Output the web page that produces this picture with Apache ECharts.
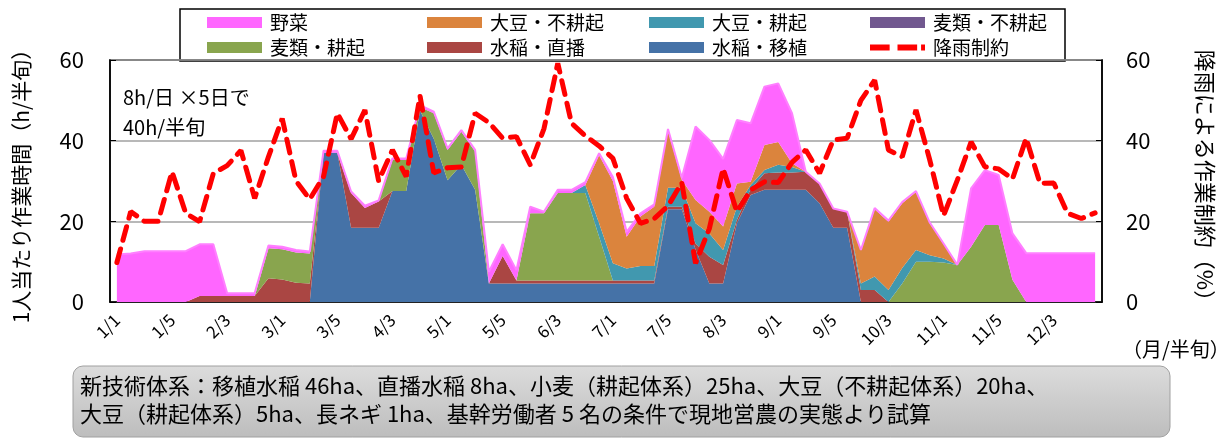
<!DOCTYPE html>
<html>
<head>
<meta charset="utf-8">
<script src="https://cdn.jsdelivr.net/npm/echarts@6/dist/echarts.min.js"></script>
<style>
  html, body { margin: 0; padding: 0; background: #ffffff; }
  #chart { width: 1224px; height: 441px; }
</style>
</head>
<body>
<div id="chart"></div>
<script>
// 月 × 半旬 (1..6) = 72 区分
const months = [1, 2, 3, 4, 5, 6, 7, 8, 9, 10, 11, 12];
const halves = [1, 2, 3, 4, 5, 6];
const categories = [];
months.forEach(m => halves.forEach(h => categories.push(m + "/" + h)));

// 水稲・移植
const riceTransplant = [
  0, 0, 0, 0, 0, 0,
  0, 0, 0, 0, 0, 0,
  0, 0, 0, 37, 37, 18.4,
  18.4, 18.4, 27.5, 27.5, 47.5, 40.5,
  30.2, 34, 27.8, 4.6, 4.6, 4.6,
  4.6, 4.6, 4.6, 4.6, 4.6, 4.6,
  4.6, 4.6, 4.6, 4.6, 23, 23,
  13, 4.6, 4.6, 19.5, 26.5, 27.8,
  27.8, 27.8, 27.8, 24.5, 18.4, 18.4,
  0, 0, 0, 0, 0, 0,
  0, 0, 0, 0, 0, 0,
  0, 0, 0, 0, 0, 0
];
// 水稲・直播
const riceDirect = [
  0, 0, 0, 0, 0, 0,
  1.5, 1.5, 1.5, 1.5, 1.5, 5.9,
  5.6, 4.8, 4.6, 0, 0, 8.6,
  4.9, 6.5, 0, 0, 0, 0,
  0, 0, 0, 0, 6.8, 0.7,
  0.7, 0.7, 0.7, 0.7, 0.7, 0.7,
  0.7, 0.7, 0.7, 0.7, 0.6, 0.6,
  1.5, 6.6, 4.6, 0.8, 1.5, 4.1,
  4.3, 4.3, 4.5, 4.9, 4.8, 4.0,
  3.0, 3.0, 0, 0, 0, 0,
  0, 0, 0, 0, 0, 0,
  0, 0, 0, 0, 0, 0
];
// 麦類・耕起
const wheatTill = [
  0, 0, 0, 0, 0, 0,
  0, 0, 0, 0, 0, 7.4,
  7.5, 7.5, 7.4, 0, 0, 0,
  0, 0, 7.7, 7.7, 0.8, 6.3,
  7.5, 8.2, 9.5, 0, 0, 0,
  16.7, 16.7, 21.7, 21.7, 21.7, 10.9,
  0, 0, 0, 0, 0, 0,
  0, 0, 0, 0, 0, 0,
  0, 0, 0, 0, 0, 0,
  0, 0, 0, 4.6, 10, 10,
  9.8, 9.2, 13.7, 19.1, 19.1, 5.5,
  0, 0, 0, 0, 0, 0
];
// 麦類・不耕起
const wheatNoTill = [
  0, 0, 0, 0, 0, 0,
  0, 0, 0, 0, 0, 0,
  0, 0, 0, 0, 0, 0,
  0, 0, 0, 0, 0, 0,
  0, 0, 0, 0, 0, 0,
  0, 0, 0, 0, 0, 0,
  0, 0, 0, 0, 0, 0,
  0, 0, 0, 0, 0, 0,
  0, 0, 0, 0, 0, 0,
  0, 0, 0, 0, 0, 0,
  0, 0, 0, 0, 0, 0,
  0, 0, 0, 0, 0, 0
];
// 大豆・耕起
const soyTill = [
  0, 0, 0, 0, 0, 0,
  0, 0, 0, 0, 0, 0,
  0, 0, 0, 0, 0, 0,
  0, 0, 0, 0, 0, 0,
  0, 0, 0, 0, 0, 0,
  0, 0, 0, 0, 2.0, 3.3,
  4.3, 3.0, 3.6, 3.6, 4.7, 4.7,
  5.0, 5.8, 3.7, 3.3, 1.0, 0.8,
  1.9, 1.4, 0, 0, 0, 0,
  1.6, 3.3, 3.0, 3.8, 2.9, 1.6,
  1.0, 0, 0, 0, 0, 0,
  0, 0, 0, 0, 0, 0
];
// 大豆・不耕起
const soyNoTill = [
  0, 0, 0, 0, 0, 0,
  0, 0, 0, 0, 0, 0,
  0, 0, 0, 0, 0, 0,
  0, 0, 0, 0, 0, 0,
  0, 0, 0, 0, 0, 0,
  0, 0, 0, 0, 0, 16.9,
  20.4, 7.9, 12.3, 14.7, 14.3, 2.0,
  5.8, 5.4, 5.8, 5.8, 0.8, 6.2,
  5.7, 0.9, 0, 0, 0, 0,
  8.3, 16.7, 16.9, 16.1, 14.4, 7.9,
  3.7, 0, 0, 0, 0, 0,
  0, 0, 0, 0, 0, 0
];
// 野菜
const vegetables = [
  11.8, 12, 12.6, 12.6, 12.6, 12.6,
  12.8, 12.8, 0.7, 0.7, 0.7, 0.7,
  0.6, 0.6, 0.5, 0.5, 0.5, 0.4,
  0.6, 0.3, 0.4, 0.4, 0.5, 0.4,
  0.4, 0.4, 0.4, 2.9, 2.9, 2.6,
  1.6, 0.4, 0.8, 0.8, 0.7, 0.5,
  1.0, 1.2, 0.8, 0.6, 0.3, 0.5,
  18.2, 17.8, 16.8, 15.7, 14.5, 14.5,
  14.5, 12.4, 0, 0, 0, 0,
  0, 0.3, 0.3, 0.3, 0.2, 0.2,
  0, 0, 14.5, 13.6, 12.4, 11.5,
  12.1, 12.1, 12.1, 12.1, 12.1, 12.1
];
// 降雨制約 (%)
const rainLimit = [
  9.8, 22.4, 20, 20, 32.3, 22,
  19.9, 31.9, 33.8, 37.6, 25.7, 36,
  45.5, 30, 25.5, 31.1, 46.8, 40.4,
  47.6, 30, 37.7, 31.1, 51.1, 32,
  33.3, 33.5, 46.8, 44.5, 40.6, 41,
  34, 43, 59.2, 44.3, 41.2, 38.7,
  35.6, 25.7, 19.5, 20.7, 23.8, 29.6,
  9.6, 18.2, 33.1, 22.4, 27.8, 29.8,
  29.6, 34.6, 37.7, 31.9, 40.2, 40.6,
  50, 55, 37.7, 36, 47.6, 35.2,
  21.4, 30.2, 39.7, 33.5, 33, 30.5,
  40.6, 29.4, 29.5, 22, 20.7, 22.1
];

const font = "'Noto Sans CJK JP', 'Noto Sans', sans-serif";

function areaSeries(name, data, color) {
  return {
    name: name,
    type: "line",
    stack: "work",
    data: data,
    symbol: "none",
    itemStyle: { color: color },
    lineStyle: { width: 0, color: color },
    areaStyle: { color: color, opacity: 1 },
    z: 2,
  };
}

// 破線の凡例アイコン
const dashIcon = "path://M0 0H20V6H0Z M28 0H48V6H28Z M52 0H56V6H52Z";

function legendItem(name, left, top, isLine) {
  return {
    data: [{ name: name, icon: isLine ? dashIcon : "rect" }],
    left: left,
    top: top,
    padding: 0,
    itemWidth: 55,
    itemHeight: isLine ? 6 : 11,
    selectedMode: false,
    textStyle: { fontSize: 19, color: "#000", fontFamily: font, padding: [0, 0, 0, 3] },
  };
}

let myChart = echarts.init(document.getElementById("chart"));
myChart.setOption({
  animation: false,
  textStyle: { fontFamily: font },
  grid: {
    left: 110,
    right: 113,
    top: 60,
    bottom: 139,
    show: true,
    borderColor: "#000",
    borderWidth: 1.5,
  },
  legend: [
    legendItem("野菜", 207, 13),
    legendItem("大豆・不耕起", 427, 13),
    legendItem("大豆・耕起", 649, 13),
    legendItem("麦類・不耕起", 870, 13),
    legendItem("麦類・耕起", 207, 38),
    legendItem("水稲・直播", 427, 38),
    legendItem("水稲・移植", 649, 38),
    legendItem("降雨制約", 870, 38, true),
  ],
  xAxis: {
    type: "category",
    data: categories,
    boundaryGap: true,
    axisLine: { lineStyle: { color: "#000", width: 1.5 } },
    axisTick: { inside: true, length: 8, interval: 0, lineStyle: { color: "#000", width: 1.2 } },
    axisLabel: { interval: 3, rotate: 45, fontSize: 17, color: "#000", margin: 15 },
  },
  yAxis: [
    {
      type: "value",
      min: 0,
      max: 60,
      interval: 20,
      name: "1人当たり作業時間（h/半旬）",
      nameLocation: "middle",
      nameRotate: 90,
      nameGap: 78,
      nameTextStyle: { fontSize: 21, color: "#000" },
      axisLine: { show: true, lineStyle: { color: "#000", width: 1.5 } },
      axisTick: { show: true, inside: true, length: 6, lineStyle: { color: "#000" } },
      axisLabel: { fontSize: 22, color: "#000", margin: 26 },
      splitLine: { lineStyle: { color: "#a0a0a0", width: 1.5 } },
    },
    {
      type: "value",
      min: 0,
      max: 60,
      interval: 20,
      position: "right",
      name: "降雨による作業制約（%）",
      nameLocation: "middle",
      nameRotate: -90,
      nameGap: 92,
      nameTextStyle: { fontSize: 22, color: "#000" },
      axisLine: { show: true, lineStyle: { color: "#000", width: 1.5 } },
      axisTick: { show: true, inside: true, length: 6, lineStyle: { color: "#000" } },
      axisLabel: { fontSize: 22, color: "#000", margin: 24 },
      splitLine: { show: false },
    },
  ],
  graphic: [
    {
      type: "rect",
      z: -1,
      shape: { x: 180, y: 9, width: 885, height: 52 },
      style: { fill: "#fff", stroke: "#000", lineWidth: 1.5 },
    },
    {
      type: "text",
      z: 10,
      style: { text: "8h/日 ×5日で", x: 123, y: 97, verticalAlign: "middle", font: "20px " + font, fill: "#000" },
    },
    {
      type: "text",
      z: 10,
      style: { text: "40h/半旬", x: 123, y: 127, verticalAlign: "middle", font: "20px " + font, fill: "#000" },
    },
    {
      type: "text",
      style: { text: "（月/半旬）", x: 1122, y: 349, verticalAlign: "middle", font: "20px " + font, fill: "#000" },
    },
    {
      type: "rect",
      shape: { x: 73, y: 366, width: 1097, height: 71, r: 10 },
      style: {
        fill: new echarts.graphic.LinearGradient(0, 0, 0, 1, [
          { offset: 0, color: "#dcdcdc" },
          { offset: 1, color: "#bdbdbd" },
        ]),
        stroke: "#a0a0a0",
        lineWidth: 1,
      },
    },
    {
      type: "text",
      style: {
        text: "新技術体系：移植水稲 46ha、直播水稲 8ha、小麦（耕起体系）25ha、大豆（不耕起体系）20ha、",
        x: 80, y: 386, verticalAlign: "middle", font: "22px " + font, fill: "#000",
      },
    },
    {
      type: "text",
      style: {
        text: "大豆（耕起体系）5ha、長ネギ 1ha、基幹労働者 5 名の条件で現地営農の実態より試算",
        x: 80, y: 414, verticalAlign: "middle", font: "22px " + font, fill: "#000",
      },
    },
  ],
  series: [
    areaSeries("水稲・移植", riceTransplant, "#4572a7"),
    areaSeries("水稲・直播", riceDirect, "#aa4643"),
    areaSeries("麦類・耕起", wheatTill, "#89a54e"),
    areaSeries("麦類・不耕起", wheatNoTill, "#71588f"),
    areaSeries("大豆・耕起", soyTill, "#4198af"),
    areaSeries("大豆・不耕起", soyNoTill, "#db843d"),
    {
      name: "野菜",
      type: "line",
      stack: "work",
      data: vegetables,
      symbol: "none",
      itemStyle: { color: "#ff66ff" },
      lineStyle: { width: 2, color: "#ff80ff" },
      areaStyle: { color: "#ff66ff", opacity: 1 },
      z: 2,
    },
    {
      name: "降雨制約",
      type: "line",
      yAxisIndex: 1,
      data: rainLimit,
      symbol: "none",
      itemStyle: { color: "#ff0000" },
      lineStyle: { color: "#ff0000", width: 5, type: [14, 9], cap: "round" },
      z: 5,
    },
  ],
});
</script>
</body>
</html>
